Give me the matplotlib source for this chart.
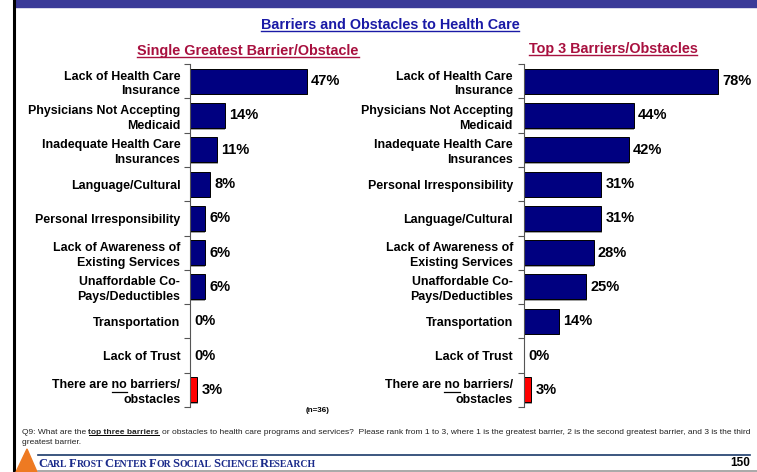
import numpy as np
import matplotlib
matplotlib.use("Agg")
import matplotlib.pyplot as plt
from matplotlib.lines import Line2D
from matplotlib.patches import Rectangle, Polygon

# Дані з графіка
single_labels = ["Lack of Health Care\nInsurance", "Physicians Not Accepting\nMedicaid",
                 "Inadequate Health Care\nInsurances", "Language/Cultural",
                 "Personal Irresponsibility", "Lack of Awareness of\nExisting Services",
                 "Unaffordable Co-\nPays/Deductibles", "Transportation", "Lack of Trust",
                 "There are no barriers/\nobstacles"]
single_values = [47, 14, 11, 8, 6, 6, 6, 0, 0, 3]

top3_labels = ["Lack of Health Care\nInsurance", "Physicians Not Accepting\nMedicaid",
               "Inadequate Health Care\nInsurances", "Personal Irresponsibility",
               "Language/Cultural", "Lack of Awareness of\nExisting Services",
               "Unaffordable Co-\nPays/Deductibles", "Transportation", "Lack of Trust",
               "There are no barriers/\nobstacles"]
top3_values = [78, 44, 42, 31, 31, 28, 25, 14, 0, 3]

title = "Barriers and Obstacles to Health Care"
left_title = "Single Greatest Barrier/Obstacle"
right_title = "Top 3 Barriers/Obstacles"
note_pre = "Q9: What are the"
note_bold = "top three barriers"
note_rest = ("or obstacles to health care programs and services?  "
             "Please rank from 1 to 3, where 1 is the greatest barrier, 2 is the second greatest barrier, "
             "and 3 is the third")
note_line2 = "greatest barrier."

W, H = 757, 472
plt.rcParams['font.family'] = ['Liberation Sans', 'DejaVu Sans']
fig = plt.figure(figsize=(W / 100, H / 100), dpi=100)


def fx(x):
    return x / W


def fy(y):
    return 1 - y / H


NAVY = "#000080"
TITLE_BLUE = "#1a1aa6"
CRIMSON = "#a8103f"
LAB_FS = 8.9
VAL_FS = 10.5
NOTE_FS = 6.0

# рамка сторінки
fig.patches.append(Rectangle((fx(14), fy(7)), 1, 7 / H, transform=fig.transFigure,
                             color="#3a3a98", zorder=0))
fig.add_artist(Line2D([fx(14), fx(14)], [0, 1], color="black", lw=2.2))


def draw_panel(x0, x1, xmax, labels, values, pad):
    ax = fig.add_axes([fx(x0), fy(407), fx(x1) - fx(x0), fy(64) - fy(407)])
    ax.patch.set_alpha(0)
    n = len(values)
    y = np.arange(n)
    colors = [NAVY] * (n - 1) + ["#ff0000"]
    # тінь під стовпчиками
    ax.barh(y + 0.05, values, height=0.73, left=0.35 * xmax / 100, color="#a0a0a0", zorder=1)
    ax.barh(y, values, height=0.73, color=colors, edgecolor="black", lw=0.7, zorder=2)
    for yi, v in zip(y, values):
        ax.annotate(f"{v}%", (v, yi), xytext=(3, 0), textcoords="offset points",
                    va="center", ha="left", fontsize=VAL_FS, fontweight="bold")
    ax.set_ylim(n - 0.5, -0.5)
    ax.set_xlim(0, xmax)
    for s in ["top", "right", "bottom"]:
        ax.spines[s].set_visible(False)
    ax.spines["left"].set_color("#555555")
    ax.set_xticks([])
    ax.set_yticks(np.arange(n + 1) - 0.5)
    ax.set_yticklabels([])
    ax.tick_params(axis="y", which="major", length=4, direction="out", color="#555555")
    ax.set_yticks(y, minor=True)
    ax.set_yticklabels(labels, minor=True, fontsize=LAB_FS, fontweight="bold",
                       multialignment="right", linespacing=1.3)
    ax.tick_params(axis="y", which="minor", length=0, pad=pad)
    return ax


# масштаб ~2.49 px на 1%
ax1 = draw_panel(190, 340, 150 / 2.49, single_labels, single_values, 7)
ax2 = draw_panel(524, 740, 216 / 2.49, top3_labels, top3_values, 8)

t_title = fig.text(fx(390), fy(25), title, ha="center", va="center", fontsize=10.4,
                   fontweight="bold", color=TITLE_BLUE)
t_lt = fig.text(fx(248), fy(51), left_title, ha="center", va="center", fontsize=10.4,
                fontweight="bold", color=CRIMSON)
t_rt = fig.text(fx(613), fy(49), right_title, ha="center", va="center", fontsize=10.4,
                fontweight="bold", color=CRIMSON)
fig.text(fx(318), fy(410), "(n=36)", ha="center", va="center", fontsize=5.8, fontweight="bold")

# підвал
fig.add_artist(Line2D([fx(38), fx(750)], [fy(455), fy(455)], color="#1a3a6a", lw=1.2))
fig.add_artist(Line2D([fx(38), fx(757)], [fy(470.5), fy(470.5)], color="#999999", lw=1.2))
fig.patches.append(Polygon([(fx(16), fy(472)), (fx(27), fy(449)), (fx(37), fy(472))],
                           closed=True, transform=fig.transFigure, color="#ee7a22", zorder=3))
fig.text(fx(750), fy(463), "150", ha="right", va="center", fontsize=8.5, fontweight="bold")

fig.canvas.draw()
rend = fig.canvas.get_renderer()


def text_w(s, **kw):
    t = fig.text(0, 0, s, **kw)
    w = t.get_window_extent(rend).width
    t.remove()
    return w


def underline(t, color, lw=1.0, off=1.5):
    bb = t.get_window_extent(rend)
    fig.add_artist(Line2D([bb.x0 / W, bb.x1 / W], [(bb.y0 + off) / H] * 2, color=color, lw=lw))


underline(t_title, TITLE_BLUE)
underline(t_lt, CRIMSON)
underline(t_rt, CRIMSON)

# підкреслення "no" у підписах
lab_kw = dict(fontsize=LAB_FS, fontweight="bold")
for ax in (ax1, ax2):
    lab = ax.get_yticklabels(minor=True)[-1]
    bb = lab.get_window_extent(rend)
    x_start = bb.x1 - text_w("no barriers/", **lab_kw)
    x_end = x_start + text_w("no", **lab_kw)
    yy = (bb.y0 + bb.y1) / 2 + 1.0
    fig.add_artist(Line2D([x_start / W, x_end / W], [yy / H] * 2, color="black", lw=0.9))

# примітка з підкресленим фрагментом
nkw = dict(fontsize=NOTE_FS, ha="left", va="baseline", color="#222222")
sp = text_w("a a", fontsize=NOTE_FS) - text_w("aa", fontsize=NOTE_FS)
tp = fig.text(fx(22), fy(434), note_pre, **nkw)
xb = tp.get_window_extent(rend).x1 + sp
tb = fig.text(xb / W, fy(434), note_bold, fontweight="bold", **nkw)
b2 = tb.get_window_extent(rend)
fig.add_artist(Line2D([b2.x0 / W, b2.x1 / W], [fy(435.3)] * 2, color="black", lw=0.7))
fig.text((b2.x1 + sp) / W, fy(434), note_rest, **nkw)
fig.text(fx(22), fy(444), note_line2, **nkw)

# малі капітелі для назви центру
x = 38
big, small = 9.1, 7.0
skw = dict(fontweight="bold", color="#1a2a8a", va="baseline", family=['Liberation Serif', 'DejaVu Serif'])
spw = text_w("A A", fontsize=small, **skw) - text_w("AA", fontsize=small, **skw)
for word in "Carl Frost Center for Social Science Research".split():
    t = fig.text(x / W, fy(467), word[0].upper(), fontsize=big, **skw)
    x += t.get_window_extent(rend).width
    t = fig.text(x / W, fy(467), word[1:].upper(), fontsize=small, **skw)
    x += t.get_window_extent(rend).width + spw

fig.savefig("out.png", dpi=100)
